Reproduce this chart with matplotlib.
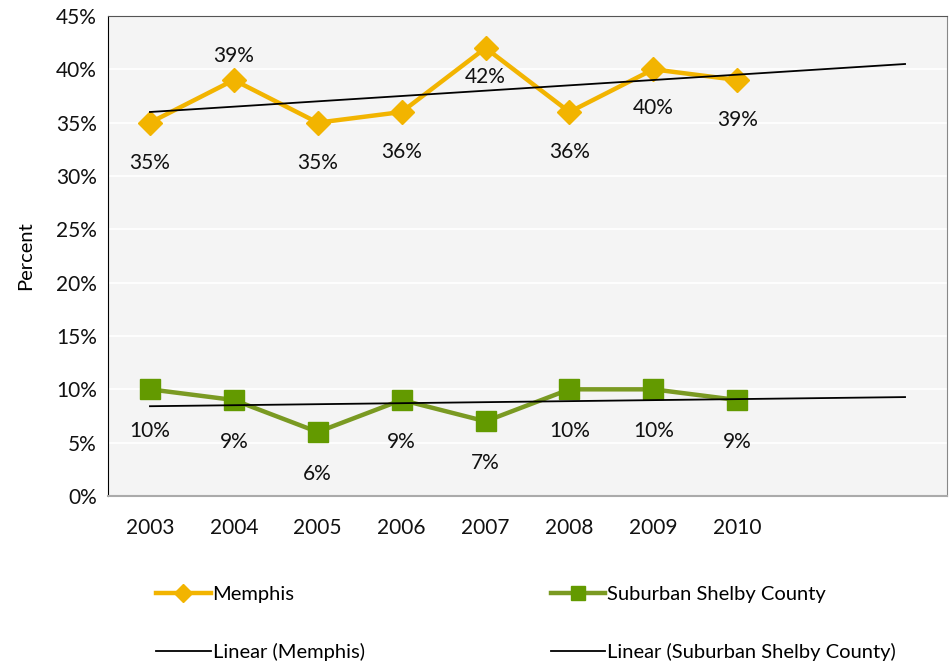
import numpy as np
import matplotlib
matplotlib.use("Agg")
import matplotlib.pyplot as plt
from matplotlib.lines import Line2D

years = ["2003", "2004", "2005", "2006", "2007", "2008", "2009", "2010"]
memphis = [35, 39, 35, 36, 42, 36, 40, 39]
suburban = [10, 9, 6, 9, 7, 10, 10, 9]

GOLD = "#F2B400"
GREEN_LINE = "#7A9A22"
GREEN_MARK = "#639A00"

plt.rcParams["font.family"] = ["Lato", "DejaVu Sans"]
plt.rcParams["font.size"] = 15

fig = plt.figure(figsize=(9.49, 6.65), dpi=100)
ax = fig.add_axes([108 / 949, 1 - 496 / 665, 839 / 949, 480 / 665])
ax.set_facecolor("#F4F4F4")

x = np.arange(len(years))
n_cat = 10  # two extra forecast slots for the trendlines

ax.plot(x, memphis, color=GOLD, lw=3.2, marker="D", ms=12, mfc=GOLD, mec=GOLD, zorder=3)
ax.plot(x, suburban, color=GREEN_LINE, lw=3.2, marker="s", ms=14, mfc=GREEN_MARK, mec=GREEN_MARK, zorder=3)

# linear trendlines, forecast forward two periods
xt = np.arange(n_cat)
for vals in (memphis, suburban):
    k, b = np.polyfit(x, vals, 1)
    ax.plot(xt, k * xt + b, color="black", lw=1.3, zorder=4)

# label offsets (points) for the Memphis series, as placed in the original
m_off = [-29, 17, -29, -29, -21, -29, -28, -29]
for xi, v, off in zip(x, memphis, m_off):
    ax.annotate(f"{v}%", (xi, v), xytext=(0, off), textcoords="offset points",
                ha="center", va="center", color="#111111", zorder=5)
for xi, v in zip(x, suburban):
    ax.annotate(f"{v}%", (xi, v), xytext=(0, -30), textcoords="offset points",
                ha="center", va="center", color="#111111")

ax.set_xlim(-0.5, n_cat - 0.5)
ax.set_ylim(0, 45)
ax.set_yticks(np.arange(0, 46, 5))
ax.set_yticklabels([f"{t}%" for t in range(0, 46, 5)])
ax.set_xticks(x)
ax.set_xticklabels(years)
ax.tick_params(length=0, labelcolor="#111111")
ax.tick_params(axis="y", pad=8)
ax.tick_params(axis="x", pad=16)
ax.grid(axis="y", color="white", lw=1.2)
ax.set_axisbelow(True)
ax.set_ylabel("Percent", labelpad=16, fontsize=14.5)

ax.spines["left"].set_color("black")
ax.spines["top"].set_color("#555555")
ax.spines["right"].set_color("#888888")
ax.spines["bottom"].set_color("#AAAAAA")
ax.spines["bottom"].set_linewidth(1.5)

handles = [
    Line2D([], [], color=GOLD, lw=3.2, marker="D", ms=9, mfc=GOLD, mec=GOLD),
    Line2D([], [], color="black", lw=1.3),
    Line2D([], [], color=GREEN_LINE, lw=3.2, marker="s", ms=10, mfc=GREEN_MARK, mec=GREEN_MARK),
    Line2D([], [], color="black", lw=1.3),
]
labels = ["Memphis", "Linear (Memphis)", "Suburban Shelby County", "Linear (Suburban Shelby County)"]
fig.legend(handles, labels, ncol=2, loc="upper left", bbox_to_anchor=(138 / 949, 1 - 568 / 665),
           frameon=False, handlelength=2.7, handletextpad=0.1, columnspacing=9.25,
           labelspacing=1.95, fontsize=14.5)

fig.savefig("out.png", dpi=100)
